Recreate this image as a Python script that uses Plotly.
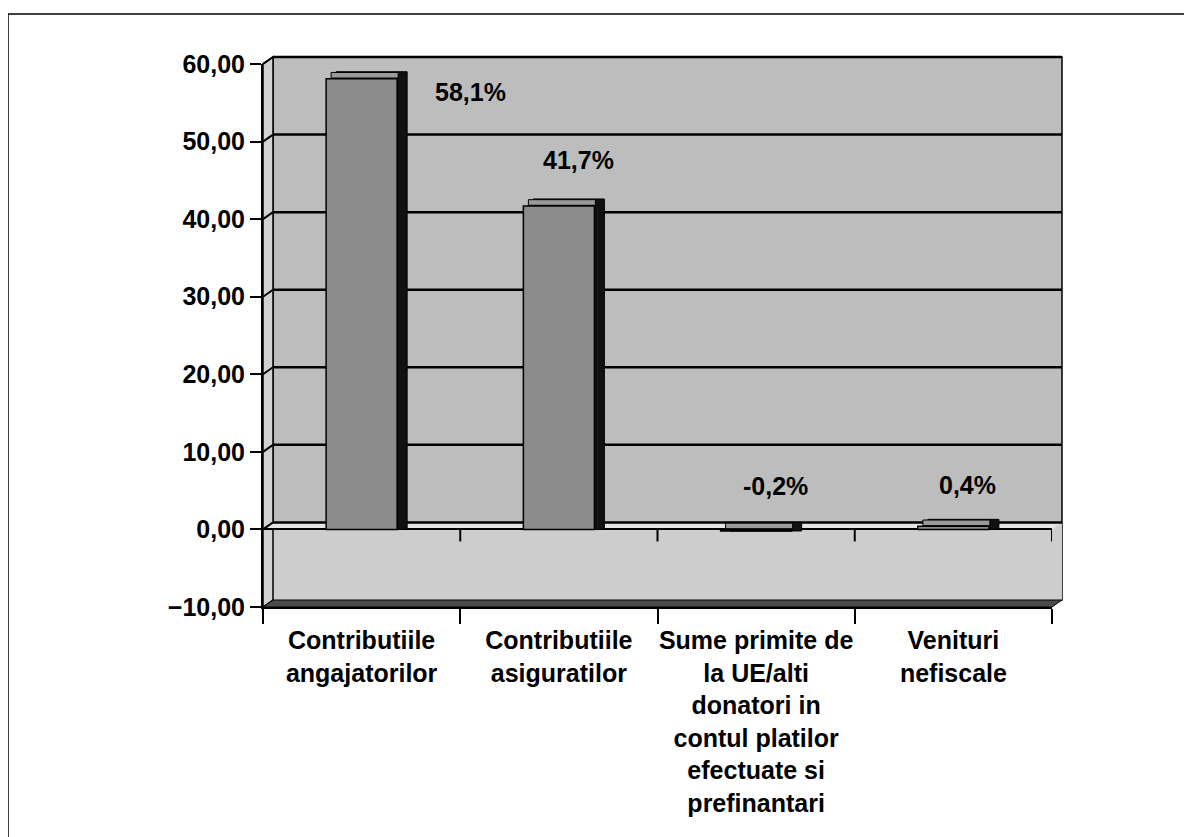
import plotly.graph_objects as go

# ---- data ----
categories = [
    "Contributiile<br>angajatorilor",
    "Contributiile<br>asiguratilor",
    "Sume primite de<br>la UE/alti<br>donatori in<br>contul platilor<br>efectuate si<br>prefinantari",
    "Venituri<br>nefiscale",
]
values = [58.1, 41.7, -0.2, 0.4]
y_ticks = [-10, 0, 10, 20, 30, 40, 50, 60]
y_range = [-10, 60]

# ---- styling / geometry (page pixel targets, compensated for 8px body margin) ----
OFF = 8
W, H = 1192 - OFF, 837 - OFF
L, T = 263 - OFF, 64 - OFF
R, B = 1192 - 1052, 837 - 607
plot_w = W - L - R
plot_h = H - T - B
px_per_unit = plot_h / (y_range[1] - y_range[0])
depth_px_x, depth_px_y = 10, 7
dy_units = depth_px_y / px_per_unit
dx_cat = depth_px_x / (plot_w / len(categories))
dxp = depth_px_x / plot_w
dyp = depth_px_y / plot_h
bar_w = 0.36

label_dx = [109, 20, 19, 14]
label_dy = [-13, 46, 45, 41]

FONT = "Liberation Sans, Arial, sans-serif"
WALL = "#bdbdbd"
BAR = "#8c8c8c"


def py(v):
    """paper y of a data value"""
    return (v - y_range[0]) / (y_range[1] - y_range[0])


labels = [f"{v:.1f}%".replace(".", ",") for v in values]

fig = go.Figure()

# 3D side of bars (shadow box)
fig.add_trace(go.Bar(
    x=categories,
    y=[abs(v) + dy_units for v in values],
    base=[min(v, 0) for v in values],
    width=bar_w,
    offset=-bar_w / 2 + dx_cat,
    marker=dict(color="#111111", line=dict(color="black", width=1)),
    hoverinfo="skip", showlegend=False,
))
# 3D top face of bars
fig.add_trace(go.Bar(
    x=categories,
    y=[dy_units * 0.8 for v in values],
    base=[max(v, 0) + dy_units * 0.1 for v in values],
    width=bar_w - dx_cat * 0.4,
    offset=-bar_w / 2 + dx_cat * 0.5,
    marker=dict(color="#9a9a9a", line=dict(color="black", width=1)),
    hoverinfo="skip", showlegend=False,
))
# front faces
fig.add_trace(go.Bar(
    x=categories,
    y=values,
    width=bar_w,
    marker=dict(color=BAR, line=dict(color="black", width=1.5)),
    hoverinfo="skip", showlegend=False,
))

shapes = []
# outer frame (page coords: left 8, top 14)
shapes.append(dict(type="rect", xref="paper", yref="paper",
                   x0=(8 - OFF - L) / plot_w, x1=(W + 20 - L) / plot_w,
                   y0=-(B + 20) / plot_h, y1=(H - B - (14 - OFF)) / plot_h,
                   line=dict(color="black", width=1.5), layer="below"))
# back wall
shapes.append(dict(type="rect", xref="paper", yref="paper",
                   x0=dxp, x1=1 + dxp, y0=dyp, y1=1 + dyp,
                   fillcolor=WALL, line=dict(color="black", width=1.5), layer="below"))
# lighter region below zero
shapes.append(dict(type="rect", xref="paper", yref="paper",
                   x0=dxp, x1=1 + dxp, y0=dyp, y1=py(0) + dyp,
                   fillcolor="#cdcdcd", line=dict(width=0), layer="below"))
# left side panel
shapes.append(dict(type="path", xref="paper", yref="paper",
                   path=f"M 0,0 L {dxp},{dyp} L {dxp},{1 + dyp} L 0,1 Z",
                   fillcolor="#d2d2d2", line=dict(color="black", width=1.5), layer="below"))
# floor (dark strip)
shapes.append(dict(type="path", xref="paper", yref="paper",
                   path=f"M 0,0 L 1,0 L {1 + dxp},{dyp} L {dxp},{dyp} Z",
                   fillcolor="#4a4a4a", line=dict(color="black", width=1), layer="below"))
# zero plane band
p0 = py(0)
shapes.append(dict(type="path", xref="paper", yref="paper",
                   path=f"M 0,{p0} L 1,{p0} L {1 + dxp},{p0 + dyp} L {dxp},{p0 + dyp} Z",
                   fillcolor="#e4e4e4", line=dict(width=0), layer="below"))
# gridlines on back wall + slanted connectors on the side panel
for t in y_ticks:
    if t == y_range[0]:
        continue
    shapes.append(dict(type="line", xref="paper", yref="paper",
                       x0=dxp, x1=1 + dxp, y0=py(t) + dyp, y1=py(t) + dyp,
                       line=dict(color="black", width=2.5), layer="below"))
    shapes.append(dict(type="line", xref="paper", yref="paper",
                       x0=0, x1=dxp, y0=py(t), y1=py(t) + dyp,
                       line=dict(color="black", width=2), layer="below"))
# tick marks on the zero line at category boundaries
tick_units = 12 / px_per_unit
for i in range(1, len(categories) + 1):
    shapes.append(dict(type="line", xref="x", yref="y",
                       x0=i - 0.5, x1=i - 0.5, y0=0, y1=-tick_units,
                       line=dict(color="black", width=2), layer="above"))

annotations = []
for i, (c, v, lab) in enumerate(zip(categories, values, labels)):
    annotations.append(dict(x=c, y=v, xref="x", yref="y", text=lab, showarrow=False,
                            xshift=label_dx[i], yshift=label_dy[i],
                            font=dict(family=FONT, size=25, color="black", weight="bold")))

fig.update_layout(
    width=W, height=H,
    margin=dict(l=L, r=R, t=T, b=B, autoexpand=False),
    paper_bgcolor="white",
    plot_bgcolor="rgba(0,0,0,0)",
    barmode="overlay",
    separators=",.",
    shapes=shapes,
    annotations=annotations,
    showlegend=False,
    font=dict(family=FONT, color="black"),
    xaxis=dict(
        type="category",
        range=[-0.5, len(categories) - 0.5],
        tickson="boundaries",
        tickangle=0,
        automargin=False,
        ticks="outside", ticklen=15, tickwidth=2, tickcolor="black",
        ticklabelstandoff=10,
        showline=True, linecolor="black", linewidth=2,
        showgrid=False, zeroline=False,
        tickfont=dict(family=FONT, size=25, color="black", weight="bold"),
    ),
    yaxis=dict(
        range=y_range,
        tickvals=y_ticks,
        tickformat=".2f",
        automargin=False,
        ticks="outside", ticklen=11, tickwidth=2, tickcolor="black",
        showline=True, linecolor="black", linewidth=2,
        showgrid=False,
        zeroline=True, zerolinecolor="black", zerolinewidth=2,
        tickfont=dict(family=FONT, size=25, color="black", weight="bold"),
    ),
)

fig.write_html("out.html")
